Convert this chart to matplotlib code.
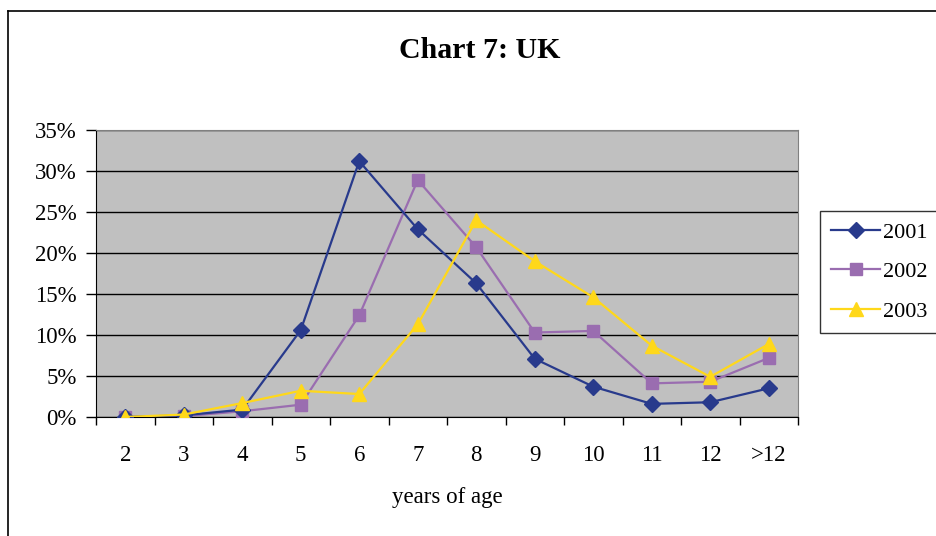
import numpy as np
import matplotlib
matplotlib.use("Agg")
import matplotlib.pyplot as plt
from matplotlib.lines import Line2D

#### Data

ages = ["2", "3", "4", "5", "6", "7", "8", "9", "10", "11", "12", ">12"]
y2001 = [0.0, 0.2, 0.9, 10.6, 31.2, 22.9, 16.3, 7.1, 3.7, 1.6, 1.8, 3.5]
y2002 = [0.0, 0.1, 0.7, 1.5, 12.4, 28.9, 20.7, 10.3, 10.5, 4.1, 4.3, 7.2]
y2003 = [0.0, 0.3, 1.7, 3.2, 2.8, 11.3, 24.0, 19.0, 14.6, 8.7, 4.9, 8.9]
years = ["2001", "2002", "2003"]

plt.rcParams["font.family"] = ["Liberation Serif", "DejaVu Serif"]

#### Figure

fig = plt.figure(figsize = (9.36, 5.36), dpi = 100)
ax = fig.add_axes([96 / 936, 1 - 417 / 536, (798 - 96) / 936, (417 - 130) / 536])
ax.set_facecolor("#C0C0C0")

x = np.arange(len(ages))
ax.plot(x, y2001, color = "#283A8C", lw = 1.6, marker = "D", ms = 8.5, label = years[0], zorder = 5)
ax.plot(x, y2002, color = "#9A6DB0", lw = 1.6, marker = "s", ms = 8.5, label = years[1], zorder = 4)
ax.plot(x, y2003, color = "#FFD81A", lw = 1.6, marker = "^", ms = 10.5, label = years[2], zorder = 6)

ax.set_xlim(-0.5, len(ages) - 0.5)
ax.set_ylim(0, 35)

ax.set_yticks(np.arange(0, 36, 5))
ax.set_yticklabels([f"{v}%" for v in range(0, 36, 5)], fontsize = 16.5)
ax.yaxis.grid(True, color = "black", lw = 1)
ax.set_axisbelow(True)
ax.tick_params(axis = "y", direction = "out", length = 7, width = 1, pad = 7)

ax.set_xticks(x)
ax.set_xticklabels(ages, fontsize = 16.5)
ax.set_xticks(np.arange(-0.5, len(ages), 1), minor = True)
ax.tick_params(axis = "x", which = "major", length = 0, pad = 20)
ax.tick_params(axis = "x", which = "minor", direction = "out", length = 6, width = 1)

for side in ["top", "right"]:
    ax.spines[side].set_color("#808080")
for side in ["left", "bottom"]:
    ax.spines[side].set_color("black")

ax.set_xlabel("years of age", fontsize = 16.5, labelpad = 15)

fig.text(0.512, 1 - 51 / 536, "Chart 7: UK", ha = "center", va = "center", fontsize = 21.5, fontweight = "bold")

leg = fig.legend(loc = "upper left", bbox_to_anchor = (820 / 936, 1 - 211 / 536), fontsize = 16,
                 frameon = True, fancybox = False, edgecolor = "black", handlelength = 2.2,
                 handletextpad = 0.15, borderpad = 0.5, labelspacing = 0.85, borderaxespad = 0)
leg.get_frame().set_linewidth(1)

# outer chart border (runs off the right and bottom edge)
fig.add_artist(Line2D([8 / 936, 8 / 936], [0, 1 - 11 / 536], color = "black", lw = 1.2, transform = fig.transFigure))
fig.add_artist(Line2D([8 / 936, 1], [1 - 11 / 536, 1 - 11 / 536], color = "black", lw = 1.2, transform = fig.transFigure))

fig.savefig("out.png", dpi = 100)
